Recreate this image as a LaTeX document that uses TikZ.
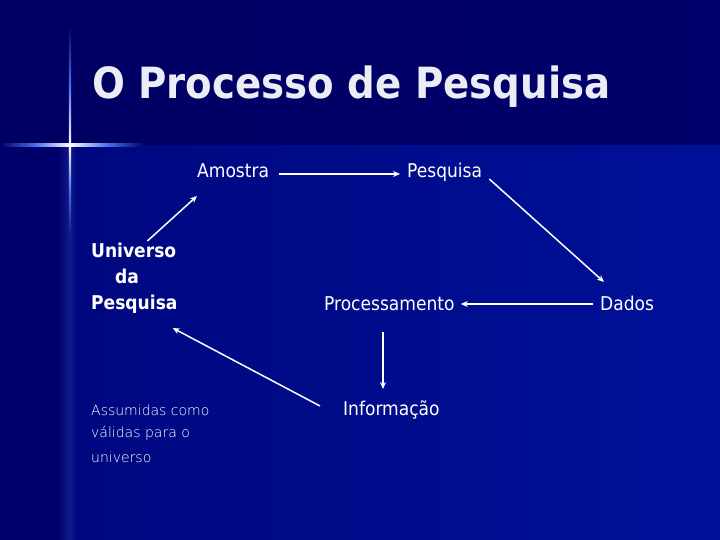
\documentclass[tikz,border=0pt]{standalone}
\usepackage{fontspec}
\setmainfont{DejaVu Sans Condensed}
\newfontfamily\thinfont{DejaVu Sans ExtraLight}
\usetikzlibrary{arrows.meta,calc}
\definecolor{topbg}{RGB}{0,0,98}
\definecolor{topbgR}{RGB}{0,0,108}
\definecolor{leftbg}{RGB}{0,0,108}
\definecolor{panelL}{RGB}{0,8,128}
\definecolor{panelR}{RGB}{0,16,152}
\definecolor{starblue}{RGB}{70,110,235}
\definecolor{titlecol}{RGB}{236,236,244}
\begin{document}
\begin{tikzpicture}[x=1pt,y=-1pt,
  lbl/.style={inner sep=0pt, anchor=base west, text=white, font=\fontsize{19}{22}\selectfont},
  blbl/.style={lbl, font=\fontsize{19}{22}\selectfont\bfseries},
  slbl/.style={lbl, font=\thinfont\fontsize{14}{16}\selectfont},
  conn/.style={draw=white, line width=1.5pt, -{Stealth[length=7pt,width=6pt]}}]
\useasboundingbox (0,0) rectangle (720,540);
% background
\shade[left color=topbg, right color=topbgR] (0,0) rectangle (720,146);
\fill[leftbg] (0,146) rectangle (70,540);
\shade[left color=panelL, right color=panelR] (70,146) rectangle (720,540);
\shade[left color=leftbg, right color=starblue!25!leftbg] (58,146) rectangle (70,540);
\shade[left color=starblue!25!leftbg, right color=panelL] (70,146) rectangle (76,540);
% star flare
\shade[left color=topbg, right color=white, middle color=starblue] (0,144) rectangle (70,146.5);
\shade[left color=white, right color=topbg, middle color=starblue] (70,144) rectangle (145,146.5);
\shade[top color=topbg, bottom color=white, middle color=starblue] (68.8,25) rectangle (71.2,145.2);
\shade[top color=white, bottom color=starblue!25!leftbg, middle color=starblue] (68.8,145.2) rectangle (71.2,235);
% title
\node[inner sep=0pt, anchor=base west, text=titlecol, font=\fontsize{43}{50}\selectfont\bfseries] (title) at (92,99) {O Processo de Pesquisa};
% nodes
\node[lbl] (am) at (197,178) {Amostra};
\node[lbl] (pq) at (407,178) {Pesquisa};
\node[lbl] (dd) at (600,310) {Dados};
\node[lbl] (pr) at (324,310) {Processamento};
\node[lbl] (inf) at (343,415) {Informação};
\node[blbl] (u1) at (91,257) {Universo};
\node[blbl] (u2) at (115,283) {da};
\node[blbl] (u3) at (91,309) {Pesquisa};
\node[slbl] (a1) at (91,415) {Assumidas como};
\node[slbl] (a2) at (91,437) {válidas para o};
\node[slbl] (a3) at (91,462) {universo};
% connectors
\draw[conn] ($(am.base east)+(10,-4)$) -- ($(pq.base west)+(-7,-4)$);
\draw[conn] ($(pq.base east)+(7,1)$) -- ($(dd.base west)+(4,-28)$);
\draw[conn] ($(dd.base west)+(-7,-6)$) -- ($(pr.base east)+(6,-6)$);
\draw[conn] ($(pr.base west)+(59,22)$) -- ($(inf.base west)+(40,-26)$);
\draw[conn] ($(inf.base west)+(-23,-9)$) -- ($(u3.base east)+(-5,19)$);
\draw[conn] ($(u1.base east)+(-29,-16)$) -- ($(am.base west)+(0,18)$);
\end{tikzpicture}
\end{document}
